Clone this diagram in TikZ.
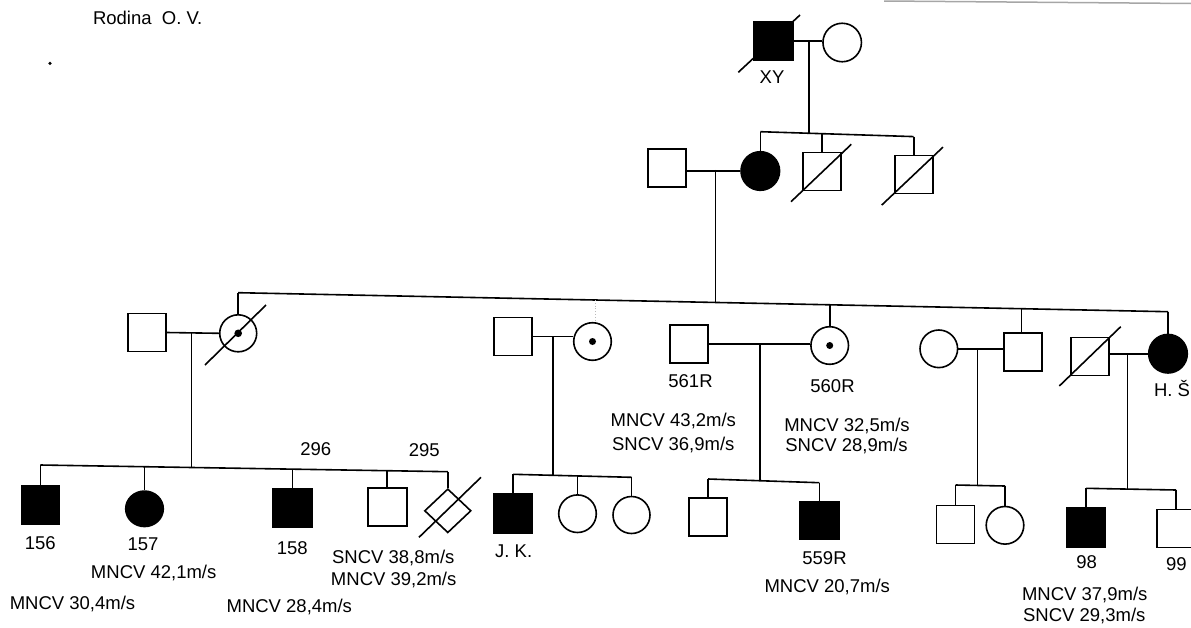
\documentclass[tikz,border=0pt]{standalone}
\usepackage{fontspec}
\setmainfont{Liberation Sans}
\usetikzlibrary{shapes.geometric}
\begin{document}
\begin{tikzpicture}[x=1pt,y=-1pt,line width=1.6pt,
  sq/.style={draw,rectangle,inner sep=0pt,minimum width=38pt,minimum height=38pt},
  ci/.style={draw,circle,inner sep=0pt,minimum size=37.6pt},
  aff/.style={fill=black},
  dm/.style={draw,diamond,inner sep=0pt,minimum width=46.6pt,minimum height=44pt},
  lbl/.style={anchor=base,inner sep=0pt,font=\fontsize{18.5}{22}\selectfont},
  faint/.style={draw=gray!55,dotted,line width=0.8pt}]
\useasboundingbox (0,0) rectangle (1191,627);
% scan artefacts
\draw[gray!70,line width=1.5pt] (884,1) -- (1191,3.5);
\fill (50,63.3) circle (1.8pt);
\node[lbl] (title) at (147.7,24.8) {Rodina\ \ O. V.};
% ---------- generation I
\node[sq,aff,minimum width=39pt,minimum height=39pt] (xy) at (773.3,41) {};
\node[ci,minimum size=38.5pt] (g1w) at (842.2,42.5) {};
\draw (xy.center) +(-35,31.3) -- +(26.7,-26);
\node[lbl] (lxy) at (772,83) {XY};
\draw (xy.east) -- (xy.east -| g1w.west);
\coordinate (d1t) at (809,41);
\coordinate (d1b) at (809,133.3);
\draw (d1t) -- (d1b);
% ---------- generation II
\node[sq] (h2) at (666.8,168) {};
\node[ci,aff,minimum size=38.6pt] (g2w) at (760.3,171) {};
\node[sq] (d2a) at (822,171.3) {};
\node[sq] (d2b) at (913.7,174.6) {};
\draw (d2a.center) +(-31,30.4) -- +(29.3,-27);
\draw (d2b.center) +(-32,30.5) -- +(29.3,-27.5);
\coordinate (s2a) at (760.3,131.7);
\coordinate (s2b) at (822,133.3);
\coordinate (s2c) at (913.7,136.6);
\draw (s2a) -- (s2c);
\draw (s2a) -- (g2w.north);
\draw (s2b) -- (d2a.north);
\draw (s2c) -- (d2b.north);
\draw (h2.east |- g2w.west) -- (g2w.west);
\coordinate (d2t) at (715.5,169.8);
\coordinate (d2b3) at (715.5,302.4);
\draw (d2t) -- (d2b3);
% ---------- generation III
\coordinate (s3a) at (238.2,292.7);
\coordinate (s3b) at (595,300);
\coordinate (s3d) at (829.7,304.8);
\coordinate (s3e) at (1021.5,308.7);
\coordinate (s3f) at (1168,311.7);
\draw (s3a) -- (s3f);
% family a
\node[sq] (ah) at (147,332.5) {};
\node[ci,minimum size=37pt] (aw) at (238.2,333.3) {};
\fill (aw.center) circle (3.8pt);
\draw (aw.center) +(-33.2,31.7) -- +(27.8,-28.3);
\draw (s3a) -- (aw.north);
\draw (ah.east) -- (aw.west);
\coordinate (dat) at (191.3,332.9);
\coordinate (dab) at (191.3,467.5);
\draw (dat) -- (dab);
% family b
\node[sq] (bh) at (512.7,336.5) {};
\node[ci] (bw) at (592.5,341.5) {};
\fill (bw.center) circle (3.5pt);
\draw[faint] (s3b) -- (s3b |- bw.north);
\draw (bh.east) -- (bh.east -| bw.west);
\coordinate (dbt) at (552.7,336.5);
\coordinate (dbb) at (552.7,475.3);
\draw (dbt) -- (dbb);
% family c
\node[sq] (ch) at (688.8,343.8) {};
\node[ci] (cw) at (829.7,345.5) {};
\fill (cw.center) circle (3.5pt);
\draw (s3d) -- (cw.north);
\draw (ch.east) -- (ch.east -| cw.west);
\coordinate (dct) at (760,343.8);
\coordinate (dcb) at (760,480.7);
\draw (dct) -- (dcb);
\node[lbl] (l561) at (690.5,387.5) {561R};
\node[lbl] (l560) at (832.5,392.5) {560R};
\node[lbl] (l561m) at (673.3,426) {MNCV 43,2m/s};
\node[lbl] (l561s) at (673.3,450) {SNCV 36,9m/s};
\node[lbl] (l560m) at (847,431.5) {MNCV 32,5m/s};
\node[lbl] (l560s) at (846.5,451.3) {SNCV 28,9m/s};
% family d
\node[ci] (dw) at (938.8,348.8) {};
\node[sq] (dh) at (1023.2,351.7) {};
\draw (s3e) -- (s3e |- dh.north);
\draw (dw.east) -- (dw.east -| dh.west);
\coordinate (ddt) at (977.5,348.8);
\coordinate (ddb) at (977.5,485.4);
\draw (ddt) -- (ddb);
% family e
\node[sq] (eh) at (1089.8,356.3) {};
\node[ci,aff,minimum size=38.6pt] (ew) at (1168,353.7) {};
\draw (eh.center) +(-30.5,29.7) -- +(30.9,-29.6);
\draw (s3f) -- (ew.north);
\draw (eh.east |- ew.west) -- (ew.west);
\coordinate (det) at (1127.5,353.7);
\coordinate (deb) at (1127.5,489.1);
\draw (det) -- (deb);
\node[lbl,anchor=base west] (lhs) at (1153.3,396.7) {H. Š};
% ---------- generation IV
% family a children
\coordinate (s4a1) at (40.3,465);
\coordinate (s4a2) at (144.5,466.7);
\coordinate (s4a3) at (292.6,469.1);
\coordinate (s4a4) at (387.2,470.7);
\coordinate (s4a5) at (447.8,471.7);
\draw (s4a1) -- (s4a5);
\node[sq,aff] (p156) at (40.3,504.7) {};
\node[draw,ellipse,aff,inner sep=0pt,minimum width=37.6pt,minimum height=35.5pt] (p157) at (144.5,508.8) {};
\node[sq,aff,minimum width=39pt] (p158) at (292.6,508) {};
\node[sq,minimum width=39pt] (p296) at (387.2,507.2) {};
\node[dm] (p295) at (447.8,510.8) {};
\draw (p295.center) +(-28.8,26.5) -- +(33.2,-33.5);
\draw (s4a1) -- (p156.north);
\draw (s4a2) -- (p157.north);
\draw (s4a3) -- (p158.north);
\draw (s4a4) -- (p296.north);
\draw (s4a5) -- (p295.north);
\node[lbl] (l296) at (315.8,455.7) {296};
\node[lbl] (l295) at (424.3,456.7) {295};
\node[lbl] (l156) at (40.3,549.3) {156};
\node[lbl] (l157) at (143,550) {157};
\node[lbl] (l158) at (292.2,554) {158};
\node[lbl] (l296s) at (393.3,563.3) {SNCV 38,8m/s};
\node[lbl] (l296m) at (393.7,585.7) {MNCV 39,2m/s};
\node[lbl] (l157m) at (153.7,578.3) {MNCV 42,1m/s};
\node[lbl] (l156m) at (72.5,609.3) {MNCV 30,4m/s};
\node[lbl] (l158m) at (289.3,612.7) {MNCV 28,4m/s};
% family b children
\coordinate (s4b1) at (513.2,474.3);
\coordinate (s4b2) at (577.5,475.9);
\coordinate (s4b3) at (631.5,477.3);
\draw (s4b1) -- (s4b3);
\node[sq,aff,minimum height=39pt] (jk) at (513.2,513.3) {};
\node[ci] (b2) at (577.5,513.7) {};
\node[ci,minimum size=37pt] (b3) at (631.5,515) {};
\draw (s4b1) -- (jk.north);
\draw (s4b2) -- (b2.north);
\draw (s4b3) -- (b3.north);
\node[lbl] (ljk) at (513.7,557.3) {J. K.};
% family c children
\coordinate (s4c1) at (708,479);
\coordinate (s4c2) at (819.3,482.7);
\draw (s4c1) -- (s4c2);
\node[sq] (c1) at (708,517.2) {};
\node[sq,aff,minimum width=39pt] (p559) at (819.3,520.3) {};
\draw (s4c1) -- (c1.north);
\draw (s4c2) -- (p559.north);
\node[lbl] (l559) at (824.5,564) {559R};
\node[lbl] (l559m) at (827.2,592.7) {MNCV 20,7m/s};
% family d children
\coordinate (s4d1) at (955.5,485);
\coordinate (s4d2) at (1005,486);
\draw (s4d1) -- (s4d2);
\node[sq] (dc1) at (955.5,524.5) {};
\node[ci] (dc2) at (1005,525.3) {};
\draw (s4d1) -- (dc1.north);
\draw (s4d2) -- (dc2.north);
% family e children
\coordinate (s4e1) at (1086.2,488.3);
\coordinate (s4e2) at (1176.2,490);
\draw (s4e1) -- (s4e2);
\node[sq,aff,minimum height=39pt] (p98) at (1086.2,527.3) {};
\node[sq] (p99) at (1176.2,528.5) {};
\draw (s4e1) -- (p98.north);
\draw (s4e2) -- (p99.north);
\node[lbl] (l98) at (1086.7,568.3) {98};
\node[lbl] (l99) at (1176.3,570) {99};
\node[lbl] (l98m) at (1084.7,600.7) {MNCV 37,9m/s};
\node[lbl] (l98s) at (1084.3,621.7) {SNCV 29,3m/s};
\end{tikzpicture}
\end{document}
